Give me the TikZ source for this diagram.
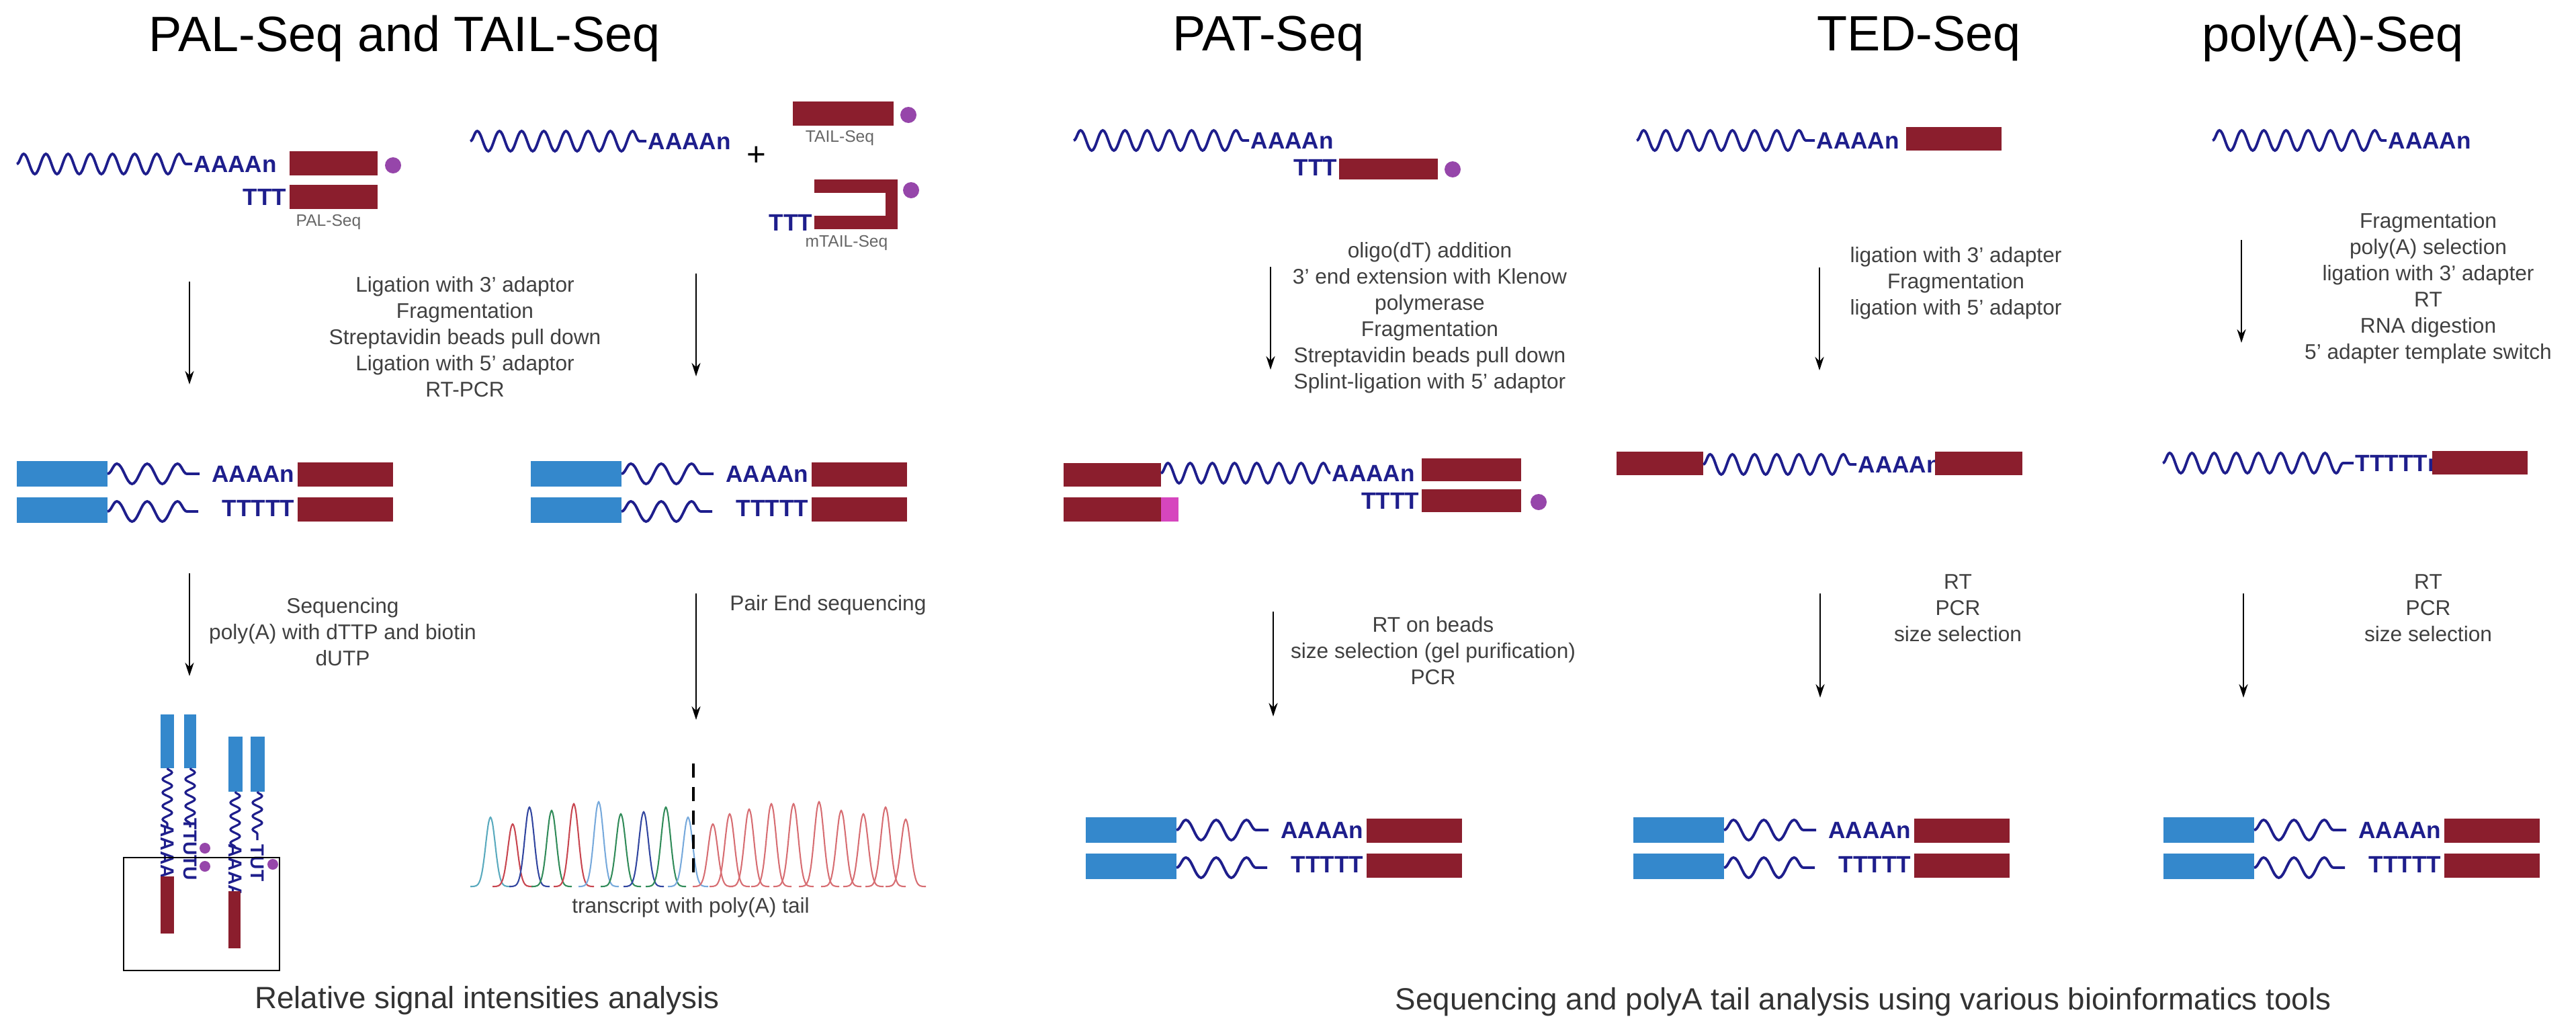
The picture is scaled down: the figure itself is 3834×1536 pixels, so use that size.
\documentclass[tikz,border=0pt]{standalone}
\usepackage{fontspec}
\setmainfont{Liberation Sans}
\usetikzlibrary{decorations.pathmorphing,arrows.meta}

\definecolor{adR}{RGB}{139,30,45}
\definecolor{adB}{RGB}{52,136,204}
\definecolor{navy}{RGB}{30,30,140}
\definecolor{beadc}{RGB}{150,70,170}
\definecolor{splint}{RGB}{214,70,190}
\definecolor{pkteal}{RGB}{90,170,190}
\definecolor{pkred}{RGB}{200,70,80}
\definecolor{pkblue}{RGB}{50,70,160}
\definecolor{pkgreen}{RGB}{50,140,90}
\definecolor{pklblue}{RGB}{120,170,220}
\definecolor{pkpink}{RGB}{215,110,115}

% adaptor box: x1,y1,x2,y2,colour
\newcommand{\adbox}[5]{\fill[#5] (#1,#2) rectangle (#3,#4);}
% final library, upper and lower strand: x left, y top
\newcommand{\libpair}[2]{%
  \adbox{#1}{#2}{#1+135}{#2+38}{adB}
  \adbox{#1}{#2+54}{#1+135}{#2+92}{adB}
  \draw[rna, segment length=0.45cm] (#1+135,#2+19) -- (#1+272,#2+19);
  \draw[rna, segment length=0.45cm] (#1+135,#2+75) -- (#1+270,#2+75);
  \node[tail, anchor=east] at (#1+414,#2+19) {AAAAn};
  \node[tail, anchor=east] at (#1+414,#2+70) {TTTTT};
  \adbox{#1+418}{#2+2}{#1+560}{#2+38}{adR}
  \adbox{#1+418}{#2+54}{#1+560}{#2+90}{adR}}

\begin{document}
\begin{tikzpicture}[x=0.01cm,y=-0.01cm,
    rna/.style={navy, line width=1.1pt, decorate,
      decoration={snake, segment length=0.33cm, amplitude=0.15cm}},
    vrna/.style={navy, line width=0.9pt, decorate,
      decoration={snake, segment length=0.2cm, amplitude=0.07cm}},
    tail/.style={navy, inner sep=0pt, font=\fontsize{10}{12}\selectfont\bfseries},
    vtail/.style={navy, inner sep=0pt, rotate=-90, font=\fontsize{8}{10}\selectfont\bfseries},
    flow/.style={-{Stealth[length=0.2cm,width=0.13cm]}, line width=0.7pt},
    steptext/.style={align=center, text=black!75, font=\fontsize{9}{11.1}\selectfont},
    title/.style={font=\fontsize{21}{24}\selectfont},
    foot/.style={text=black!80, font=\fontsize{13}{16}\selectfont},
    adlabel/.style={text=black!60, inner sep=0pt, font=\fontsize{7}{8}\selectfont},
    bead/.style={beadc}]
  \useasboundingbox (0,0) rectangle (3834,1536);

  %titles:
  \node[title] (tPAL) at (602,57) {PAL-Seq and TAIL-Seq};
  \node[title] (tPAT) at (1888,57) {PAT-Seq};
  \node[title] (tTED) at (2856,57) {TED-Seq};
  \node[title] (tPOLY) at (3472,57) {poly(A)-Seq};

  %PAL-Seq start:
  \draw[rna] (25,244) -- (286,244);
  \node[tail, anchor=west] (palA) at (288,244) {AAAAn};
  \adbox{431}{225}{562}{261}{adR}
  \fill[bead] (585,246) circle (12);
  \node[tail, anchor=east] (palT) at (427,293) {TTT};
  \adbox{431}{275}{562}{311}{adR}
  \node[adlabel] (palL) at (489,330) {PAL-Seq};

  %TAIL-Seq start:
  \draw[rna] (700,210) -- (962,210);
  \node[tail, anchor=west] (tailA) at (964,210) {AAAAn};
  \node[font=\fontsize{14}{14}\selectfont] (plus) at (1126,232) {+};
  \adbox{1180}{151}{1330}{187}{adR}
  \fill[bead] (1352,171) circle (12);
  \node[adlabel] (tailL) at (1250,205) {TAIL-Seq};
  \adbox{1212}{267}{1336}{287}{adR}
  \adbox{1318}{267}{1336}{341}{adR}
  \adbox{1212}{321}{1336}{341}{adR}
  \fill[bead] (1356,283) circle (12);
  \node[tail, anchor=east] (mtailT) at (1210,331) {TTT};
  \node[adlabel] (mtailL) at (1260,361) {mTAIL-Seq};

  %PAL / TAIL steps:
  \coordinate (s1a) at (282,419); \coordinate (s1b) at (282,572);
  \coordinate (s2a) at (1036,407); \coordinate (s2b) at (1036,560);
  \draw[flow] (s1a) -- (s1b);
  \draw[flow] (s2a) -- (s2b);
  \node[steptext] (lig) at (692,501) {Ligation with 3' adaptor\\Fragmentation\\Streptavidin beads pull down\\Ligation with 5' adaptor\\RT-PCR};

  \libpair{25}{686}
  \libpair{790}{686}

  \coordinate (s3a) at (282,853); \coordinate (s3b) at (282,1006);
  \coordinate (s4a) at (1036,883); \coordinate (s4b) at (1036,1071);
  \draw[flow] (s3a) -- (s3b);
  \draw[flow] (s4a) -- (s4b);
  \node[steptext] (seqtxt) at (510,940) {Sequencing\\poly(A) with dTTP and biotin\\dUTP};
  \node[steptext, anchor=west] (petxt) at (1074,900) {Pair End sequencing};

  %PAL-Seq clusters:
  \adbox{239}{1063}{259}{1143}{adB}
  \adbox{274}{1063}{292}{1143}{adB}
  \adbox{340}{1096}{361}{1178}{adB}
  \adbox{373}{1096}{394}{1178}{adB}
  \draw[vrna] (249,1143) -- (249,1231);
  \draw[vrna] (283,1143) -- (283,1231);
  \draw[vrna] (350,1178) -- (350,1262);
  \draw[vrna] (383,1178) -- (383,1250);
  \node[vtail] (c1) at (249,1266) {AAAA};
  \node[vtail] (c2) at (283,1264) {TTUTU};
  \node[vtail] (c3) at (350,1296) {AAAA};
  \node[vtail] (c4) at (383,1284) {TUT};
  \fill[bead] (305,1262) circle (8);
  \fill[bead] (305,1289) circle (8);
  \fill[bead] (406,1286) circle (8);
  \adbox{239}{1304}{259}{1389}{adR}
  \adbox{340}{1326}{358}{1411}{adR}
  \draw[line width=0.7pt] (184,1276) rectangle (416,1444);

  %chromatogram:
  \foreach \c/\h/\col in {730/103/pkteal, 763/93/pkred, 788/118/pkblue, 821/113/pkgreen,
      854/123/pkred, 891/126/pklblue, 924/108/pkgreen, 958/111/pkblue, 991/118/pkgreen,
      1024/103/pklblue, 1061/93/pkpink, 1086/108/pkpink, 1115/115/pkpink, 1148/123/pkpink,
      1181/123/pkpink, 1219/126/pkpink, 1252/113/pkpink, 1285/108/pkpink, 1318/118/pkpink,
      1348/100/pkpink}
    \draw[\col, line width=0.6pt] plot[smooth, domain=-30:30, samples=21]
      ({\c+\x},{1319-\h*exp(-(\x/10)^2)});
  \coordinate (dA) at (1032,1136); \coordinate (dB) at (1032,1306);
  \draw[line width=1.2pt, dash pattern=on 6pt off 4pt] (dA) -- (dB);
  \node[steptext] (trtxt) at (1028,1350) {transcript with poly(A) tail};
  \node[foot] (relA) at (725,1489) {Relative signal intensities analysis};

  %PAT-Seq:
  \draw[rna] (1598,209) -- (1859,209);
  \node[tail, anchor=west] (patA) at (1861,209) {AAAAn};
  \node[tail, anchor=east] (patT) at (1991,249) {TTT};
  \adbox{1993}{236}{2140}{267}{adR}
  \fill[bead] (2162,252) circle (12);
  \coordinate (p1a) at (1891,397); \coordinate (p1b) at (1891,550);
  \draw[flow] (p1a) -- (p1b);
  \node[steptext] (pattxt) at (2128,473) {oligo(dT) addition\\3' end extension with Klenow\\polymerase\\Fragmentation\\Streptavidin beads pull down\\Splint-ligation with 5' adaptor};
  \adbox{1583}{689}{1728}{724}{adR}
  \adbox{1583}{740}{1728}{776}{adR}
  \adbox{1728}{740}{1754}{776}{splint}
  \draw[rna] (1728,704) -- (1980,704);
  \node[tail, anchor=west] (patA2) at (1982,704) {AAAAn};
  \node[tail, anchor=east] (patT2) at (2113,745) {TTTT};
  \adbox{2116}{682}{2264}{716}{adR}
  \adbox{2116}{728}{2264}{762}{adR}
  \fill[bead] (2290,747) circle (12);
  \coordinate (p2a) at (1895,910); \coordinate (p2b) at (1895,1066);
  \draw[flow] (p2a) -- (p2b);
  \node[steptext] (pattxt2) at (2133,968) {RT on beads\\size selection (gel purification)\\PCR};
  \libpair{1616}{1216}

  %TED-Seq:
  \draw[rna] (2436,209) -- (2701,209);
  \node[tail, anchor=west] (tedA) at (2703,209) {AAAAn};
  \adbox{2837}{189}{2979}{224}{adR}
  \coordinate (t1a) at (2708,398); \coordinate (t1b) at (2708,551);
  \draw[flow] (t1a) -- (t1b);
  \node[steptext] (tedtxt) at (2911,421) {ligation with 3' adapter\\Fragmentation\\ligation with 5' adaptor};
  \adbox{2406}{672}{2535}{707}{adR}
  \draw[rna] (2535,691) -- (2763,691);
  \node[tail, anchor=west] (tedA2) at (2765,691) {AAAAn};
  \adbox{2880}{672}{3010}{707}{adR}
  \coordinate (t2a) at (2709,883); \coordinate (t2b) at (2709,1038);
  \draw[flow] (t2a) -- (t2b);
  \node[steptext] (tedtxt2) at (2914,905) {RT\\PCR\\size selection};
  \libpair{2431}{1216}

  %poly(A)-Seq:
  \draw[rna] (3293,209) -- (3552,209);
  \node[tail, anchor=west] (polyA) at (3554,209) {AAAAn};
  \coordinate (q1a) at (3336,357); \coordinate (q1b) at (3336,510);
  \draw[flow] (q1a) -- (q1b);
  \node[steptext] (polytxt) at (3614,429) {Fragmentation\\poly(A) selection\\ligation with 3' adapter\\RT\\RNA digestion\\5' adapter template switch};
  \draw[rna] (3219,689) -- (3503,689);
  \node[tail, anchor=west] (polyT) at (3505,689) {TTTTTn};
  \adbox{3620}{671}{3762}{706}{adR}
  \coordinate (q2a) at (3339,883); \coordinate (q2b) at (3339,1038);
  \draw[flow] (q2a) -- (q2b);
  \node[steptext] (polytxt2) at (3614,905) {RT\\PCR\\size selection};
  \libpair{3220}{1216}

  \node[foot] (seqB) at (2773,1491) {Sequencing and polyA tail analysis using various bioinformatics tools};
\end{tikzpicture}
\end{document}
